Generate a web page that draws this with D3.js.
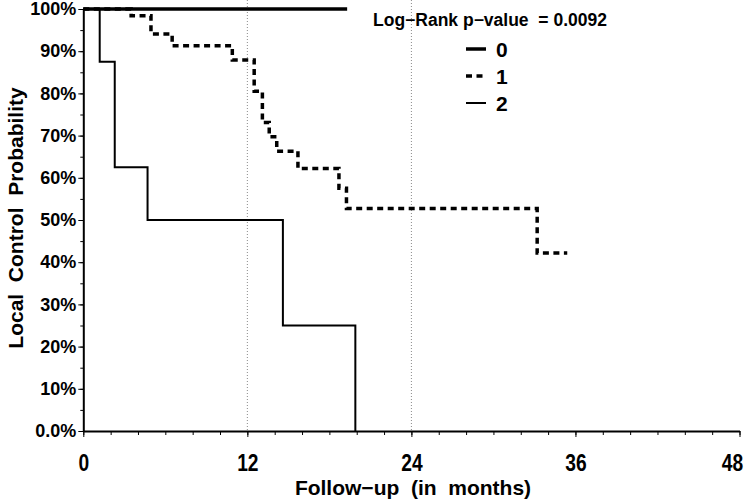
<!DOCTYPE html>
<html>
<head>
<script src="https://d3js.org/d3.v7.min.js"></script>
<style>
body { margin: 0; background: #fff; }
text { font-family: "Liberation Sans", Arial, sans-serif; font-weight: bold; fill: #000; }
</style>
</head>
<body>
<div id="chart"></div>
<script>
const w = 744
const h = 501

// group 0: no event during follow-up
const g0Times = [0, 19.3]
const g0Values = [100, 100]
// group 1
const g1Times = [0, 3.5, 4.95, 6.5, 10.9, 12.5, 13.1, 13.6, 14.15, 15.7, 18.7, 19.25, 33.2, 35.4]
const g1Values = [100, 98.4, 94.1, 91.3, 87.9, 80.5, 73.1, 69.7, 66.3, 62.2, 57.5, 52.7, 42.2, 42.2]
// group 2
const g2Times = [0, 1.2, 2.3, 4.7, 14.6, 19.9]
const g2Values = [100, 87.5, 62.5, 50, 25, 0]

const xTicks = [0, 12, 24, 36, 48]
const yTicks = [0, 10, 20, 30, 40, 50, 60, 70, 80, 90, 100]
const yTickLabels = ['0.0%', '10%', '20%', '30%', '40%', '50%', '60%', '70%', '80%', '90%', '100%']
const gridMonths = [12, 24]
const legendLabels = ['0', '1', '2']
const pValueText = 'Log\u2212Rank p\u2212value  = 0.0092'

const x = d3.scaleLinear().domain([0, 48]).range([83.3, 739.5])
const y = d3.scaleLinear().domain([0, 100]).range([431, 9])

const svg = d3.select('#chart')
    .append('svg')
    .attr('width', w)
    .attr('height', h)

// dotted reference lines
svg.selectAll('.grid')
    .data(gridMonths)
    .enter()
    .append('line')
    .attr('x1', d => x(d))
    .attr('x2', d => x(d))
    .attr('y1', 0)
    .attr('y2', y(0))
    .attr('stroke', '#8a8a8a')
    .attr('stroke-width', 1)
    .attr('stroke-dasharray', '1,2')

// x axis: minor ticks, then labelled ticks
const xMinor = svg.append('g')
    .attr('transform', 'translate(0,' + y(0) + ')')
    .call(d3.axisBottom(x).tickValues(d3.range(0, 49, 2)).tickSize(4).tickSizeOuter(0).tickFormat(''))
xMinor.select('.domain').attr('stroke-width', 2)

const xMajor = svg.append('g')
    .attr('transform', 'translate(0,' + y(0) + ')')
    .call(d3.axisBottom(x).tickValues(xTicks).tickSize(6).tickSizeOuter(0).tickPadding(17))
xMajor.select('.domain').remove()
xMajor.selectAll('text')
    .style('font-size', '24px')
    .attr('transform', 'scale(0.8,1)')
    .attr('text-anchor', d => d === 48 ? 'end' : 'middle')
    .attr('x', d => d === 48 ? 4 : 0)

// y axis
const yMinor = svg.append('g')
    .attr('transform', 'translate(' + x(0) + ',0)')
    .call(d3.axisLeft(y).tickValues(d3.range(0, 101, 5)).tickSize(3).tickSizeOuter(0).tickFormat(''))
yMinor.select('.domain').attr('stroke-width', 2)

const yMajor = svg.append('g')
    .attr('transform', 'translate(' + x(0) + ',0)')
    .call(d3.axisLeft(y).tickValues(yTicks).tickSize(5).tickSizeOuter(0).tickPadding(2)
        .tickFormat((d, i) => yTickLabels[i]))
yMajor.select('.domain').remove()
yMajor.selectAll('text').style('font-size', '18px')

// survival curves
const line = d3.line()
    .x(d => x(d[0]))
    .y(d => y(d[1]))
    .curve(d3.curveStepAfter)

const curves = [
    {times: g0Times, values: g0Values, width: 3.5, dash: null},
    {times: g1Times, values: g1Values, width: 3.5, dash: '6,4.5'},
    {times: g2Times, values: g2Values, width: 2, dash: null}
]

svg.selectAll('.curve')
    .data(curves)
    .enter()
    .append('path')
    .attr('class', 'curve')
    .attr('d', c => line(c.times.map((t, i) => [t, c.values[i]])))
    .attr('fill', 'none')
    .attr('stroke', '#000')
    .attr('stroke-width', c => c.width)
    .attr('stroke-dasharray', c => c.dash)

// legend
svg.append('text')
    .attr('x', 373)
    .attr('y', 26)
    .attr('xml:space', 'preserve')
    .style('font-size', '17.5px')
    .text(pValueText)

const legend = svg.selectAll('.legend')
    .data(legendLabels)
    .enter()
    .append('g')
    .attr('transform', (d, i) => 'translate(466,' + (49 + i * 27) + ')')

legend.append('line')
    .attr('x1', 0)
    .attr('x2', 20)
    .attr('stroke', '#000')
    .attr('stroke-width', (d, i) => curves[i].width)
    .attr('stroke-dasharray', (d, i) => curves[i].dash)

legend.append('text')
    .attr('x', 30)
    .attr('y', 8)
    .style('font-size', '21px')
    .text(d => d)

// axis titles
svg.append('text')
    .attr('x', 413)
    .attr('y', 495)
    .attr('text-anchor', 'middle')
    .attr('xml:space', 'preserve')
    .style('font-size', '21px')
    .text('Follow\u2212up  (in  months)')

svg.append('text')
    .attr('transform', 'translate(23,218) rotate(-90)')
    .attr('text-anchor', 'middle')
    .attr('xml:space', 'preserve')
    .style('font-size', '21px')
    .text('Local  Control  Probability')
</script>
</body>
</html>
